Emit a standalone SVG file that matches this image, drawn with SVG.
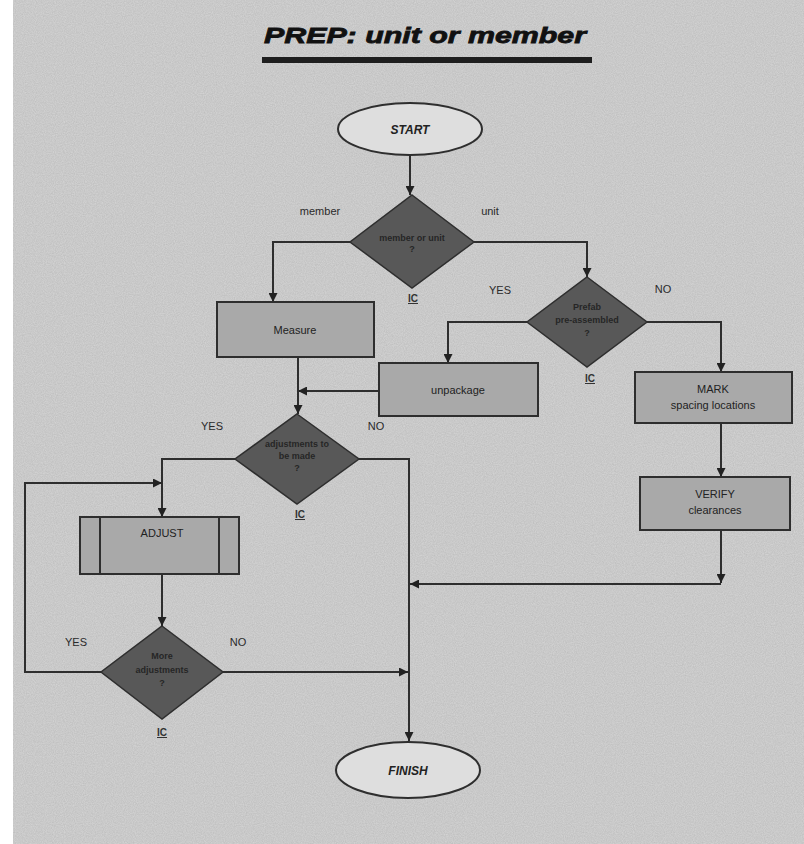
<svg xmlns="http://www.w3.org/2000/svg" width="804" height="844" viewBox="0 0 804 844">
<style>
.lbl{font-family:"Liberation Sans",Arial,sans-serif;font-size:11px;fill:#2a2a2a;text-anchor:middle}
.box{fill:#a9a9a9;stroke:#2e2e2e;stroke-width:2}
.dia{fill:#585858;stroke:#2e2e2e;stroke-width:1.5}
.ell{fill:#dedede;stroke:#2e2e2e;stroke-width:2}
.dtx{font-family:"Liberation Sans",Arial,sans-serif;font-size:9px;font-weight:bold;fill:#262626;text-anchor:middle}
.btx{font-family:"Liberation Sans",Arial,sans-serif;font-size:11px;fill:#222;text-anchor:middle}
.ttx{font-family:"Liberation Sans",Arial,sans-serif;font-size:12px;font-weight:bold;font-style:italic;fill:#222;text-anchor:middle}
.ic{font-family:"Liberation Sans",Arial,sans-serif;font-size:10px;font-weight:bold;fill:#333;text-anchor:middle;text-decoration:underline}
.ln{fill:none;stroke:#2e2e2e;stroke-width:2}
</style>
<defs>
<marker id="ah" viewBox="0 0 10 10" refX="10" refY="5" markerWidth="9" markerHeight="9" markerUnits="userSpaceOnUse" orient="auto">
<path d="M0,0 L10,5 L0,10 z" fill="#222"/>
</marker>
<filter id="noise" x="0" y="0" width="100%" height="100%">
<feTurbulence type="fractalNoise" baseFrequency="0.9" numOctaves="2" seed="3"/>
<feColorMatrix type="matrix" values="0 0 0 0 0  0 0 0 0 0  0 0 0 0 0  0 0 0 0.12 0"/>
</filter>
</defs>
<rect x="0" y="0" width="804" height="844" fill="#ffffff"/>
<rect x="13" y="0" width="791" height="844" fill="#d6d6d6"/>
<rect x="13" y="0" width="791" height="844" filter="url(#noise)"/>

<g id="title">
<text x="425" y="43" font-family="'Liberation Sans',Arial,sans-serif" font-size="22" font-weight="bold" font-style="italic" fill="#111" text-anchor="middle" textLength="322" lengthAdjust="spacingAndGlyphs" stroke="#111" stroke-width="0.8">PREP: unit or member</text>
<rect x="262" y="57" width="330" height="6" fill="#1e1e1e"/>
</g>

<g id="connectors">
<path class="ln" d="M410,155 V195" marker-end="url(#ah)"/>
<path class="ln" d="M350,242 H273 V302" marker-end="url(#ah)"/>
<path class="ln" d="M473,242 H587 V277" marker-end="url(#ah)"/>
<path class="ln" d="M527,322 H448 V363" marker-end="url(#ah)"/>
<path class="ln" d="M647,322 H721 V372" marker-end="url(#ah)"/>
<path class="ln" d="M721,423 V477" marker-end="url(#ah)"/>
<path class="ln" d="M721,530 V583" marker-end="url(#ah)"/>
<path class="ln" d="M721,584 H410" marker-end="url(#ah)"/>
<path class="ln" d="M379,391 H298" marker-end="url(#ah)"/>
<path class="ln" d="M298,357 V414" marker-end="url(#ah)"/>
<path class="ln" d="M235,459 H162 V517" marker-end="url(#ah)"/>
<path class="ln" d="M359,459 H409 V741" marker-end="url(#ah)"/>
<path class="ln" d="M162,574 V626" marker-end="url(#ah)"/>
<path class="ln" d="M223,672 H408" marker-end="url(#ah)"/>
<path class="ln" d="M101,672 H25 V483 H162" marker-end="url(#ah)"/>
</g>

<g id="labels">
<text class="lbl" x="320" y="215">member</text>
<text class="lbl" x="490" y="215">unit</text>
<text class="lbl" x="500" y="294">YES</text>
<text class="lbl" x="663" y="293">NO</text>
<text class="lbl" x="212" y="430">YES</text>
<text class="lbl" x="376" y="430">NO</text>
<text class="lbl" x="76" y="646">YES</text>
<text class="lbl" x="238" y="646">NO</text>
</g>

<g id="start">
<ellipse class="ell" cx="410" cy="129" rx="72" ry="26"/>
<text class="ttx" x="410" y="134">START</text>
</g>

<g id="member-or-unit">
<polygon class="dia" points="412,195 474,242 412,288 350,242"/>
<text class="dtx" x="412" y="241">member or unit</text>
<text class="dtx" x="412" y="252">?</text>
<text class="ic" x="413" y="302">IC</text>
</g>

<g id="measure">
<rect class="box" x="217" y="302" width="157" height="55"/>
<text class="btx" x="295" y="334">Measure</text>
</g>

<g id="prefab">
<polygon class="dia" points="587,277 647,322 587,367 527,322"/>
<text class="dtx" x="587" y="310">Prefab</text>
<text class="dtx" x="587" y="323">pre-assembled</text>
<text class="dtx" x="587" y="336">?</text>
<text class="ic" x="590" y="382">IC</text>
</g>

<g id="unpackage">
<rect class="box" x="379" y="363" width="159" height="53"/>
<text class="btx" x="458" y="394">unpackage</text>
</g>

<g id="mark">
<rect class="box" x="635" y="372" width="157" height="51"/>
<text class="btx" x="713" y="393">MARK</text>
<text class="btx" x="713" y="409">spacing locations</text>
</g>

<g id="verify">
<rect class="box" x="640" y="477" width="150" height="53"/>
<text class="btx" x="715" y="498">VERIFY</text>
<text class="btx" x="715" y="514">clearances</text>
</g>

<g id="adjustments">
<polygon class="dia" points="297,414 359,459 297,504 235,459"/>
<text class="dtx" x="297" y="447">adjustments to</text>
<text class="dtx" x="297" y="459">be made</text>
<text class="dtx" x="297" y="471">?</text>
<text class="ic" x="300" y="518">IC</text>
</g>

<g id="adjust">
<rect class="box" x="80" y="517" width="159" height="57"/>
<line x1="100" y1="517" x2="100" y2="574" stroke="#2e2e2e" stroke-width="2"/>
<line x1="219" y1="517" x2="219" y2="574" stroke="#2e2e2e" stroke-width="2"/>
<text class="btx" x="162" y="537">ADJUST</text>
</g>

<g id="more-adjustments">
<polygon class="dia" points="162,626 223,672 162,719 101,672"/>
<text class="dtx" x="162" y="659">More</text>
<text class="dtx" x="162" y="673">adjustments</text>
<text class="dtx" x="162" y="686">?</text>
<text class="ic" x="162" y="736">IC</text>
</g>

<g id="finish">
<ellipse class="ell" cx="408" cy="770" rx="72" ry="28"/>
<text class="ttx" x="408" y="775">FINISH</text>
</g>
</svg>
